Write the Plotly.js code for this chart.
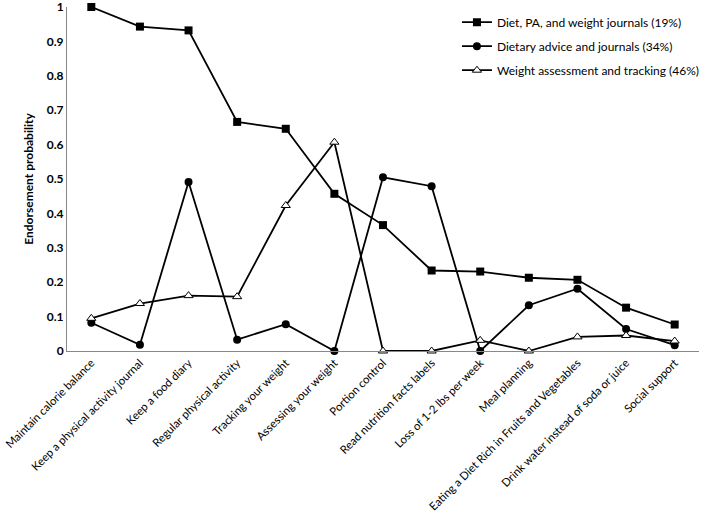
<!DOCTYPE html>
<html>
<head>
<meta charset="utf-8">
<script src="https://cdn.plot.ly/plotly-3.0.1.min.js"></script>
<style>html,body{margin:0;padding:0;background:#fff;}#chart{width:708px;height:518px;}</style>
</head>
<body>
<div id="chart"></div>
<script>
const categories = [
  "Maintain calorie balance",
  "Keep a physical activity journal",
  "Keep a food diary",
  "Regular physical activity",
  "Tracking your weight",
  "Assessing your weight",
  "Portion control",
  "Read nutrition facts labels",
  "Loss of 1-2 lbs per week",
  "Meal planning",
  "Eating a Diet Rich in Fruits and Vegetables",
  "Drink water instead of soda or juice",
  "Social support"
];
const seriesNames = [
  "Diet, PA, and weight journals (19%)",
  "Dietary advice and journals (34%)",
  "Weight assessment and tracking (46%)"
];
const dietPaWeight = [1.0, 0.943, 0.932, 0.666, 0.646, 0.457, 0.366, 0.234, 0.231, 0.213, 0.207, 0.126, 0.077];
const dietaryAdvice = [0.082, 0.018, 0.491, 0.033, 0.078, 0.0, 0.505, 0.479, 0.0, 0.133, 0.181, 0.064, 0.017];
const weightTracking = [0.095, 0.138, 0.161, 0.158, 0.423, 0.607, 0.0, 0.0, 0.031, 0.0, 0.041, 0.045, 0.029];
const yTickVals = [0, 0.1, 0.2, 0.3, 0.4, 0.5, 0.6, 0.7, 0.8, 0.9, 1];
const yTickText = ["0", "0.1", "0.2", "0.3", "0.4", "0.5", "0.6", "0.7", "0.8", "0.9", "1"];

const FONT = "Lato, 'Open Sans', sans-serif";
const lineStyle = {color: "#000", width: 1.8};
const traces = [
  {x: categories, y: dietPaWeight, name: seriesNames[0], legendgroup: "a",
   mode: "lines+markers", line: lineStyle, cliponaxis: false,
   marker: {symbol: "square", size: 8, color: "#000", line: {color: "#000", width: 0}}},
  {x: categories, y: dietaryAdvice, name: seriesNames[1], legendgroup: "b",
   mode: "lines+markers", line: lineStyle, cliponaxis: false,
   marker: {symbol: "circle", size: 8, color: "#000", line: {color: "#000", width: 0}}},
  {x: categories, y: weightTracking, name: seriesNames[2], legendgroup: "c",
   mode: "lines+markers", line: lineStyle, cliponaxis: false,
   marker: {symbol: "triangle-up", size: 8, color: "#fff", line: {color: "#000", width: 1}}}
];

const layout = {
  width: 708, height: 518,
  margin: {l: 67, r: 3, t: 7, b: 167},
  paper_bgcolor: "#fff", plot_bgcolor: "#fff",
  font: {family: FONT, color: "#000", size: 12},
  showlegend: true,
  legend: {x: 0.617, y: 0.998, xanchor: "left", yanchor: "top",
           font: {family: FONT, size: 12, color: "#000"},
           traceorder: "grouped", tracegroupgap: 5, itemwidth: 30,
           bgcolor: "rgba(0,0,0,0)"},
  xaxis: {type: "category", range: [-0.5, 12.5], tickangle: -45,
          showline: true, linecolor: "#888", linewidth: 1,
          showgrid: false, zeroline: false, ticks: "",
          tickfont: {family: FONT, size: 11.3, color: "#000"}},
  yaxis: {range: [0, 1], tickvals: yTickVals, ticktext: yTickText,
          showline: true, linecolor: "#888", linewidth: 1,
          showgrid: false, zeroline: false, ticks: "", ticklen: 0,
          ticklabeloverflow: "allow",
          tickfont: {family: FONT, size: 12, color: "#000", weight: "bold"},
          title: {text: "Endorsement probability", standoff: 10,
                  font: {family: FONT, size: 12, color: "#000", weight: "bold"}}}
};

Plotly.newPlot("chart", traces, layout, {displayModeBar: false, staticPlot: true});
</script>
</body>
</html>
